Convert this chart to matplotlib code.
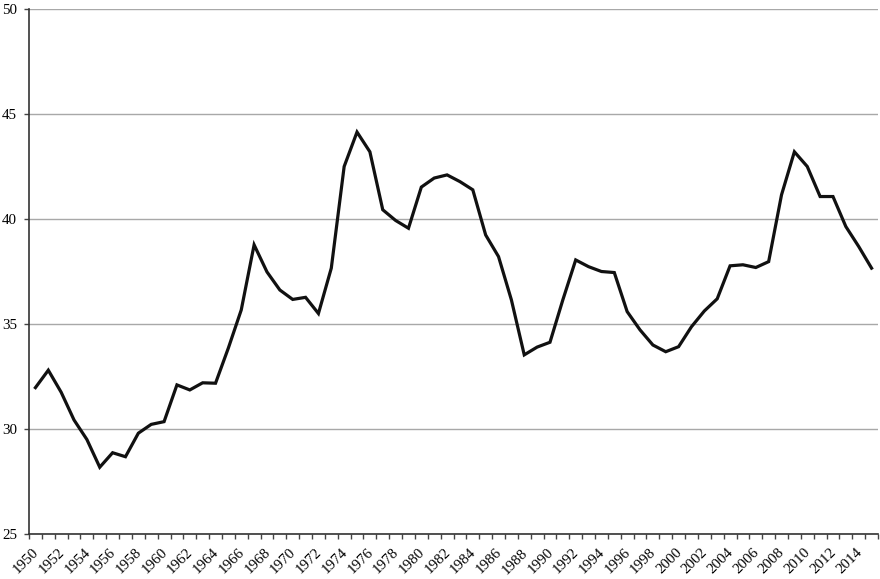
import matplotlib
matplotlib.use("Agg")
import matplotlib.pyplot as plt
import matplotlib.transforms as mtransforms
import numpy as np

years = list(range(1950, 2016))
values = [31.97, 32.8, 31.75, 30.43, 29.5, 28.18, 28.87, 28.68, 29.8, 30.22,
          30.35, 32.1, 31.86, 32.2, 32.18, 33.86, 35.67, 38.77, 37.48, 36.62,
          36.17, 36.27, 35.5, 37.66, 42.5, 44.14, 43.2, 40.44, 39.93, 39.56,
          41.52, 41.95, 42.1, 41.78, 41.39, 39.24, 38.21, 36.15, 33.53, 33.9,
          34.13, 36.15, 38.05, 37.73, 37.5, 37.45, 35.59, 34.72, 34.0, 33.68,
          33.92, 34.87, 35.62, 36.2, 37.77, 37.82, 37.69, 37.97, 41.15, 43.2,
          42.5, 41.07, 41.07, 39.64, 38.69, 37.66]
label_years = list(range(1950, 2016, 2))
y_ticks = [25, 30, 35, 40, 45, 50]

plt.rcParams['font.family'] = ['Liberation Serif', 'DejaVu Serif']

fig = plt.figure(figsize=(8.8, 5.79), dpi=100)
ax = fig.add_axes([29/880, 1 - 534/579, 849/880, 525/579])

ax.plot(years, values, color='#111111', lw=2.3, solid_joinstyle='miter', zorder=3)

ax.set_xlim(years[0] - 0.5, years[-1] + 0.5)
ax.set_ylim(25, 50)

ax.set_yticks(y_ticks)
ax.set_yticklabels([str(v) for v in y_ticks], fontsize=10.8)
ax.yaxis.grid(True, color='#a8a8a8', lw=1.0)
ax.set_axisbelow(True)

# category axis: tick marks at category boundaries, labels at category centers
ax.set_xticks([])
ax.set_xticks(np.arange(years[0] - 0.5, years[-1] + 1.0, 1.0), minor=True)
ax.tick_params(axis='x', which='minor', length=3.6, width=1, color='#444444',
               direction='out', labelbottom=False)
ax.tick_params(axis='y', length=3.6, width=1, color='#444444', pad=5)

trans = ax.get_xaxis_transform() + mtransforms.ScaledTranslation(
    -3.5/100, -12/100, fig.dpi_scale_trans)
for yr in label_years:
    ax.text(yr, 0, str(yr), transform=trans, rotation=45, rotation_mode='anchor',
            ha='right', va='top', fontsize=10.8, clip_on=False)

for s in ['top', 'right']:
    ax.spines[s].set_visible(False)
for s in ['left', 'bottom']:
    ax.spines[s].set_color('#333333')
    ax.spines[s].set_linewidth(1.2)

fig.savefig('out.png', dpi=100)
